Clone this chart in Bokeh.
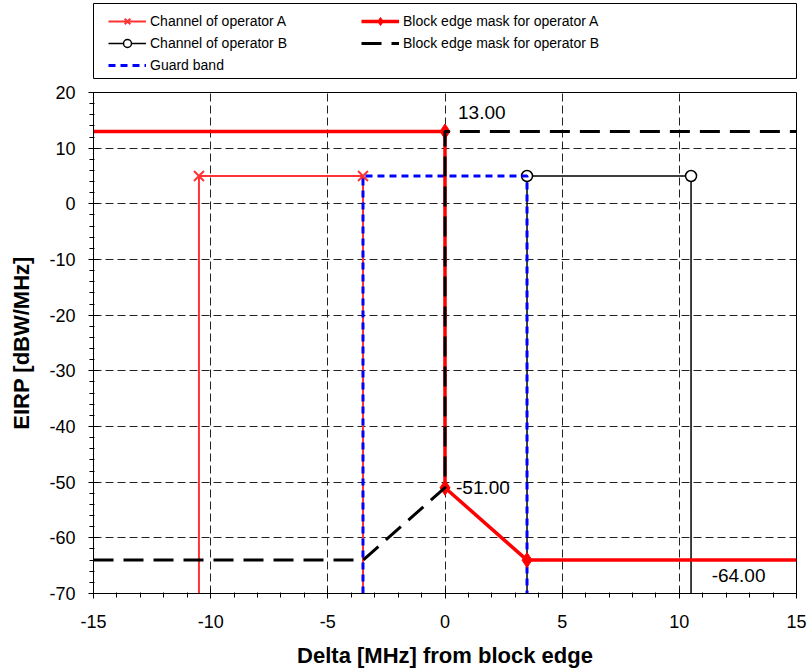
from bokeh.plotting import figure
from bokeh.layouts import column
from bokeh.models import Range1d, FixedTicker, Legend, LegendItem, PrintfTickFormatter
from bokeh.core.properties import value
from bokeh.embed import file_html
from bokeh.resources import INLINE

# ---- data ----
chan_a_x = [-10.5, -10.5, -3.5, -3.5]
chan_a_y = [-70, 5, 5, -70]
chan_a_mx = [-10.5, -3.5]
chan_a_my = [5, 5]

chan_b_x = [3.5, 3.5, 10.5, 10.5]
chan_b_y = [-70, 5, 5, -70]
chan_b_mx = [3.5, 10.5]
chan_b_my = [5, 5]

guard_x = [-3.5, -3.5, 3.5, 3.5]
guard_y = [-70, 5, 5, -70]

mask_a_x = [-15, 0, 0, 3.5, 15]
mask_a_y = [13, 13, -51, -64, -64]
mask_a_mx = [0, 0, 3.5]
mask_a_my = [13, -51, -64]

mask_b_x = [-15, -3.5, 0, 0, 15]
mask_b_y = [-64, -64, -51, 13, 13]

ann_x = [0, 0, 15]
ann_y = [13, -51, -64]
ann_text = ["13.00", "-51.00", "-64.00"]

series_names = ["Channel of operator A", "Channel of operator B", "Guard band",
                "Block edge mask for operator A", "Block edge mask for operator B"]

x_ticks = [-15, -10, -5, 0, 5, 10, 15]
y_ticks = [-70, -60, -50, -40, -30, -20, -10, 0, 10, 20]
x_minor = list(range(-15, 16))
y_minor = list(range(-70, 21, 2))

FONT = "Liberation Sans"

# ---- styles ----
S_CA_LINE = dict(line_color="#ff3333", line_width=2)
S_CA_MARK = dict(marker="x", size=14, line_color="#ff3333", line_width=2)
S_CB_LINE = dict(line_color="black", line_width=1.5)
S_CB_MARK = dict(marker="circle", size=11, line_color="black", fill_color="white", line_width=1.5)
S_GB_LINE = dict(line_color="#0000ff", line_width=3, line_dash="7 5")
S_MA_LINE = dict(line_color="#ff0000", line_width=3.5)
S_MA_MARK = dict(marker="diamond", size=15, line_color="#ff0000", fill_color="#ff0000")
S_MB_LINE = dict(line_color="black", line_width=3, line_dash="20 10")

# ---- main chart ----
p = figure(width=808, height=590, x_range=Range1d(-15, 15), y_range=Range1d(-70, 20),
           output_backend="svg", toolbar_location=None,
           min_border_left=92, min_border_right=12, min_border_top=12, min_border_bottom=77,
           background_fill_color="white", border_fill_color="white")

p.outline_line_color = "black"
p.outline_line_width = 1

for ax in (p.xaxis[0], p.yaxis[0]):
    ax.axis_line_color = "black"
    ax.major_tick_line_color = "black"
    ax.minor_tick_line_color = "black"
    ax.major_tick_in = 5
    ax.major_tick_out = 5
    ax.minor_tick_in = 1
    ax.minor_tick_out = 4
    ax.major_label_text_font = FONT
    ax.major_label_text_font_size = "18px"
    ax.major_label_text_color = "black"
    ax.axis_label_text_font = FONT
    ax.axis_label_text_font_size = "22px"
    ax.axis_label_text_font_style = "bold"
    ax.axis_label_text_color = "black"
    ax.formatter = PrintfTickFormatter(format="%d")

p.xaxis.ticker = FixedTicker(ticks=x_ticks, minor_ticks=x_minor)
p.yaxis.ticker = FixedTicker(ticks=y_ticks, minor_ticks=y_minor)
p.xaxis.axis_label = "Delta [MHz] from block edge"
p.yaxis.axis_label = "EIRP [dBW/MHz]"
p.xaxis.major_label_standoff = 16
p.yaxis.major_label_standoff = 13
p.xaxis.axis_label_standoff = 12
p.yaxis.axis_label_standoff = 12

for g in (p.xgrid[0], p.ygrid[0]):
    g.grid_line_color = "#222222"
    g.grid_line_width = 1
    g.grid_line_dash = "8 4"
p.xgrid.ticker = FixedTicker(ticks=x_ticks)
p.ygrid.ticker = FixedTicker(ticks=y_ticks)

p.line(chan_a_x, chan_a_y, **S_CA_LINE)
p.scatter(chan_a_mx, chan_a_my, **S_CA_MARK)
p.line(chan_b_x, chan_b_y, **S_CB_LINE)
p.scatter(chan_b_mx, chan_b_my, **S_CB_MARK)
p.line(guard_x, guard_y, **S_GB_LINE)
p.line(mask_a_x, mask_a_y, **S_MA_LINE)
p.scatter(mask_a_mx, mask_a_my, **S_MA_MARK)
p.line(mask_b_x, mask_b_y, **S_MB_LINE)

TXT = dict(text_font=value(FONT), text_font_size="19px", text_baseline="middle", text_color="black")
p.text(x=[ann_x[0]], y=[ann_y[0]], text=[ann_text[0]], x_offset=13, y_offset=-19, text_align="left", **TXT)
p.text(x=[ann_x[1]], y=[ann_y[1]], text=[ann_text[1]], x_offset=11, y_offset=0, text_align="left", **TXT)
p.text(x=[ann_x[2]], y=[ann_y[2]], text=[ann_text[2]], x_offset=-31, y_offset=15, text_align="right", **TXT)

# ---- legend panel (its frame outline is the legend box) ----
# The legend panel's ranges lie far away from the data, so its renderers only feed the legend.
lg = figure(width=808, height=80, x_range=Range1d(100, 101), y_range=Range1d(100, 101),
            x_axis_location=None, y_axis_location=None,
            output_backend="svg", toolbar_location=None,
            min_border_left=93, min_border_right=6, min_border_top=3, min_border_bottom=2,
            background_fill_color="white", border_fill_color="white")
lg.grid.visible = False
lg.outline_line_color = "black"
lg.outline_line_width = 1

r_ca = [lg.line(chan_a_x, chan_a_y, **S_CA_LINE), lg.scatter(chan_a_mx, chan_a_my, **S_CA_MARK)]
r_cb = [lg.line(chan_b_x, chan_b_y, **S_CB_LINE), lg.scatter(chan_b_mx, chan_b_my, **S_CB_MARK)]
r_gb = [lg.line(guard_x, guard_y, **S_GB_LINE)]
r_ma = [lg.line(mask_a_x, mask_a_y, **S_MA_LINE), lg.scatter(mask_a_mx, mask_a_my, **S_MA_MARK)]
r_mb = [lg.line(mask_b_x, mask_b_y, **S_MB_LINE)]

legend = Legend(items=[
    LegendItem(label=series_names[0], renderers=r_ca, index=0),
    LegendItem(label=series_names[1], renderers=r_cb, index=0),
    LegendItem(label=series_names[2], renderers=r_gb, index=0),
    LegendItem(label=series_names[3], renderers=r_ma, index=0),
    LegendItem(label=series_names[4], renderers=r_mb, index=0),
], location=(15, 3), orientation="vertical", nrows=3, ncols=2,
    glyph_width=38, glyph_height=20, label_width=209, label_height=20, label_standoff=4,
    spacing=2, padding=0, margin=0, border_line_alpha=0, background_fill_alpha=0,
    label_text_font=FONT, label_text_font_size="14px", label_text_color="black")
lg.add_layout(legend)

layout = column(lg, p, spacing=0)
open("out.html", "w").write(file_html(layout, INLINE))
